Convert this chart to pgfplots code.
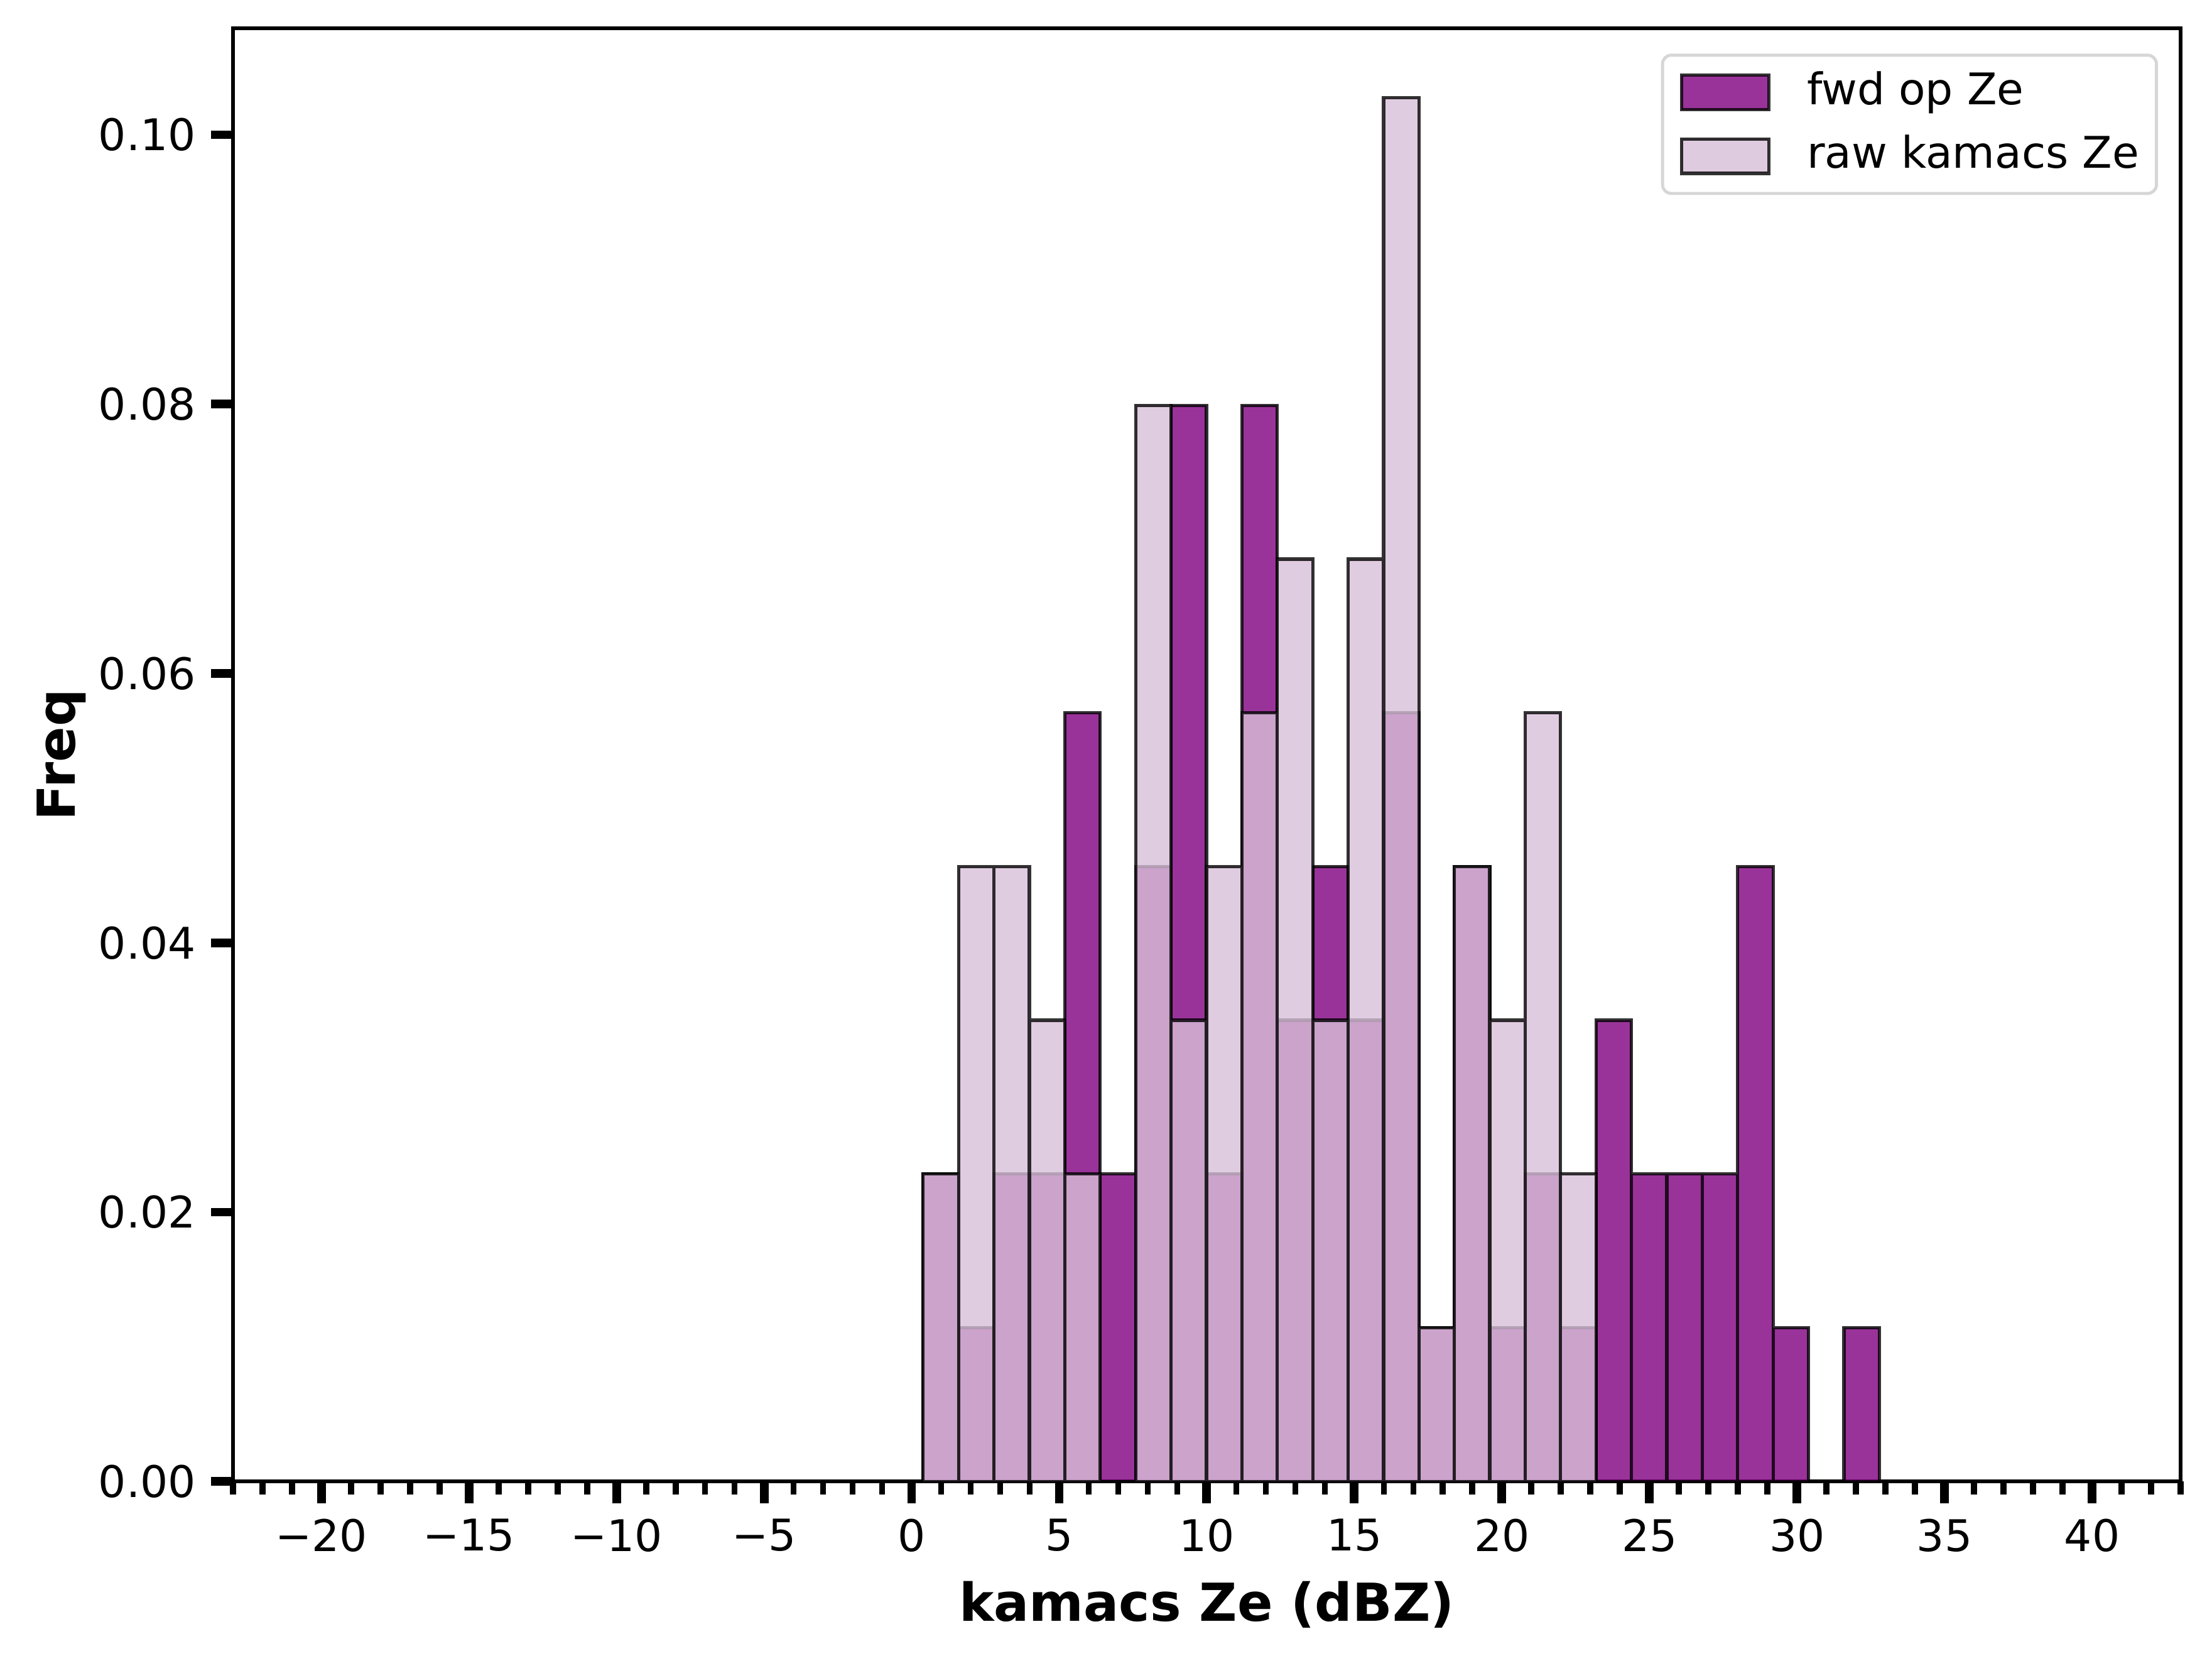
\documentclass[border=0pt]{standalone}
\usepackage{fontspec}
\setmainfont{DejaVu Sans}
\usepackage{pgfplots}
\pgfplotsset{compat=1.18}
\definecolor{mplpurple}{RGB}{128,0,128}
\definecolor{mplthistle}{RGB}{216,191,216}
\definecolor{legendedge}{RGB}{214,214,214}
\begin{document}
\begin{tikzpicture}
\begin{axis}[
  scale only axis,
  width=446.6pt, height=333.1pt,
  xmin=-23, xmax=43, ymin=0, ymax=0.1079,
  axis line style={line width=0.8pt},
  tick align=outside,
  xtick pos=lower, ytick pos=left,
  xtick={-20,-15,...,40},
  xticklabels={−20,−15,−10,−5,0,5,10,15,20,25,30,35,40},
  minor xtick={-23,-22,...,43},
  ytick={0,0.02,0.04,0.06,0.08,0.10},
  yticklabels={0.00,0.02,0.04,0.06,0.08,0.10},
  major tick length=5pt, minor tick length=3pt,
  major tick style={line width=2pt, black},
  minor tick style={line width=1.4pt, black},
  tick label style={font=\fontsize{10}{12}\selectfont},
  xlabel={kamacs Ze (dBZ)}, ylabel={Freq},
  ylabel shift=-3.9pt,
  label style={font=\fontsize{12}{14}\selectfont\bfseries},
  legend style={at={(rel axis cs:1,1)}, anchor=north east, xshift=-5.2pt, yshift=-5.8pt,
    draw=legendedge, rounded corners=2pt, line width=0.7pt,
    inner xsep=4pt, inner ysep=3.3pt, row sep=4.1pt,
    nodes={inner sep=0pt, text height=8pt, text depth=2.5pt},
    /tikz/every odd column/.append style={column sep=8.4pt},
    font=\fontsize{10}{12}\selectfont},
  legend cell align=left,
  area legend,
  legend image code/.code={\draw[#1, sharp corners] (0pt,-3.95pt) rectangle (20pt,3.95pt);},
]
\addplot[ybar interval, fill=mplpurple, fill opacity=0.8, draw=black, draw opacity=0.8, line width=0.75pt] coordinates {
(0.39,0.022831) (1.59,0.011416) (2.79,0.022831) (3.99,0.022831) (5.19,0.057078)
(6.39,0.022831) (7.59,0.045662) (8.79,0.079909) (9.99,0.022831) (11.19,0.079909)
(12.39,0.034247) (13.59,0.045662) (14.79,0.034247) (15.99,0.057078) (17.19,0.011416)
(18.39,0.045662) (19.59,0.011416) (20.79,0.022831) (21.99,0.011416) (23.19,0.034247)
(24.39,0.022831) (25.59,0.022831) (26.79,0.022831) (27.99,0.045662) (29.19,0.011416)
(30.39,0) (31.59,0.011416) (32.79,0.011416)
};
\addlegendentry{fwd op Ze}
\addplot[ybar interval, fill=mplthistle, fill opacity=0.8, draw=black, draw opacity=0.8, line width=0.75pt] coordinates {
(0.39,0.022831) (1.59,0.045662) (2.79,0.045662) (3.99,0.034247) (5.19,0.022831)
(6.39,0) (7.59,0.079909) (8.79,0.034247) (9.99,0.045662) (11.19,0.057078)
(12.39,0.068493) (13.59,0.034247) (14.79,0.068493) (15.99,0.102740) (17.19,0.011416)
(18.39,0.045662) (19.59,0.034247) (20.79,0.057078) (21.99,0.022831) (23.19,0.022831)
};
\addlegendentry{raw kamacs Ze}
\coordinate (sw) at (rel axis cs:0,0);
\coordinate (ne) at (rel axis cs:1,1);
\end{axis}
\pgfresetboundingbox
\path ([xshift=-53.4pt,yshift=-41.1pt]sw) rectangle ([xshift=7.2pt,yshift=6.5pt]ne);
\end{tikzpicture}
\end{document}
